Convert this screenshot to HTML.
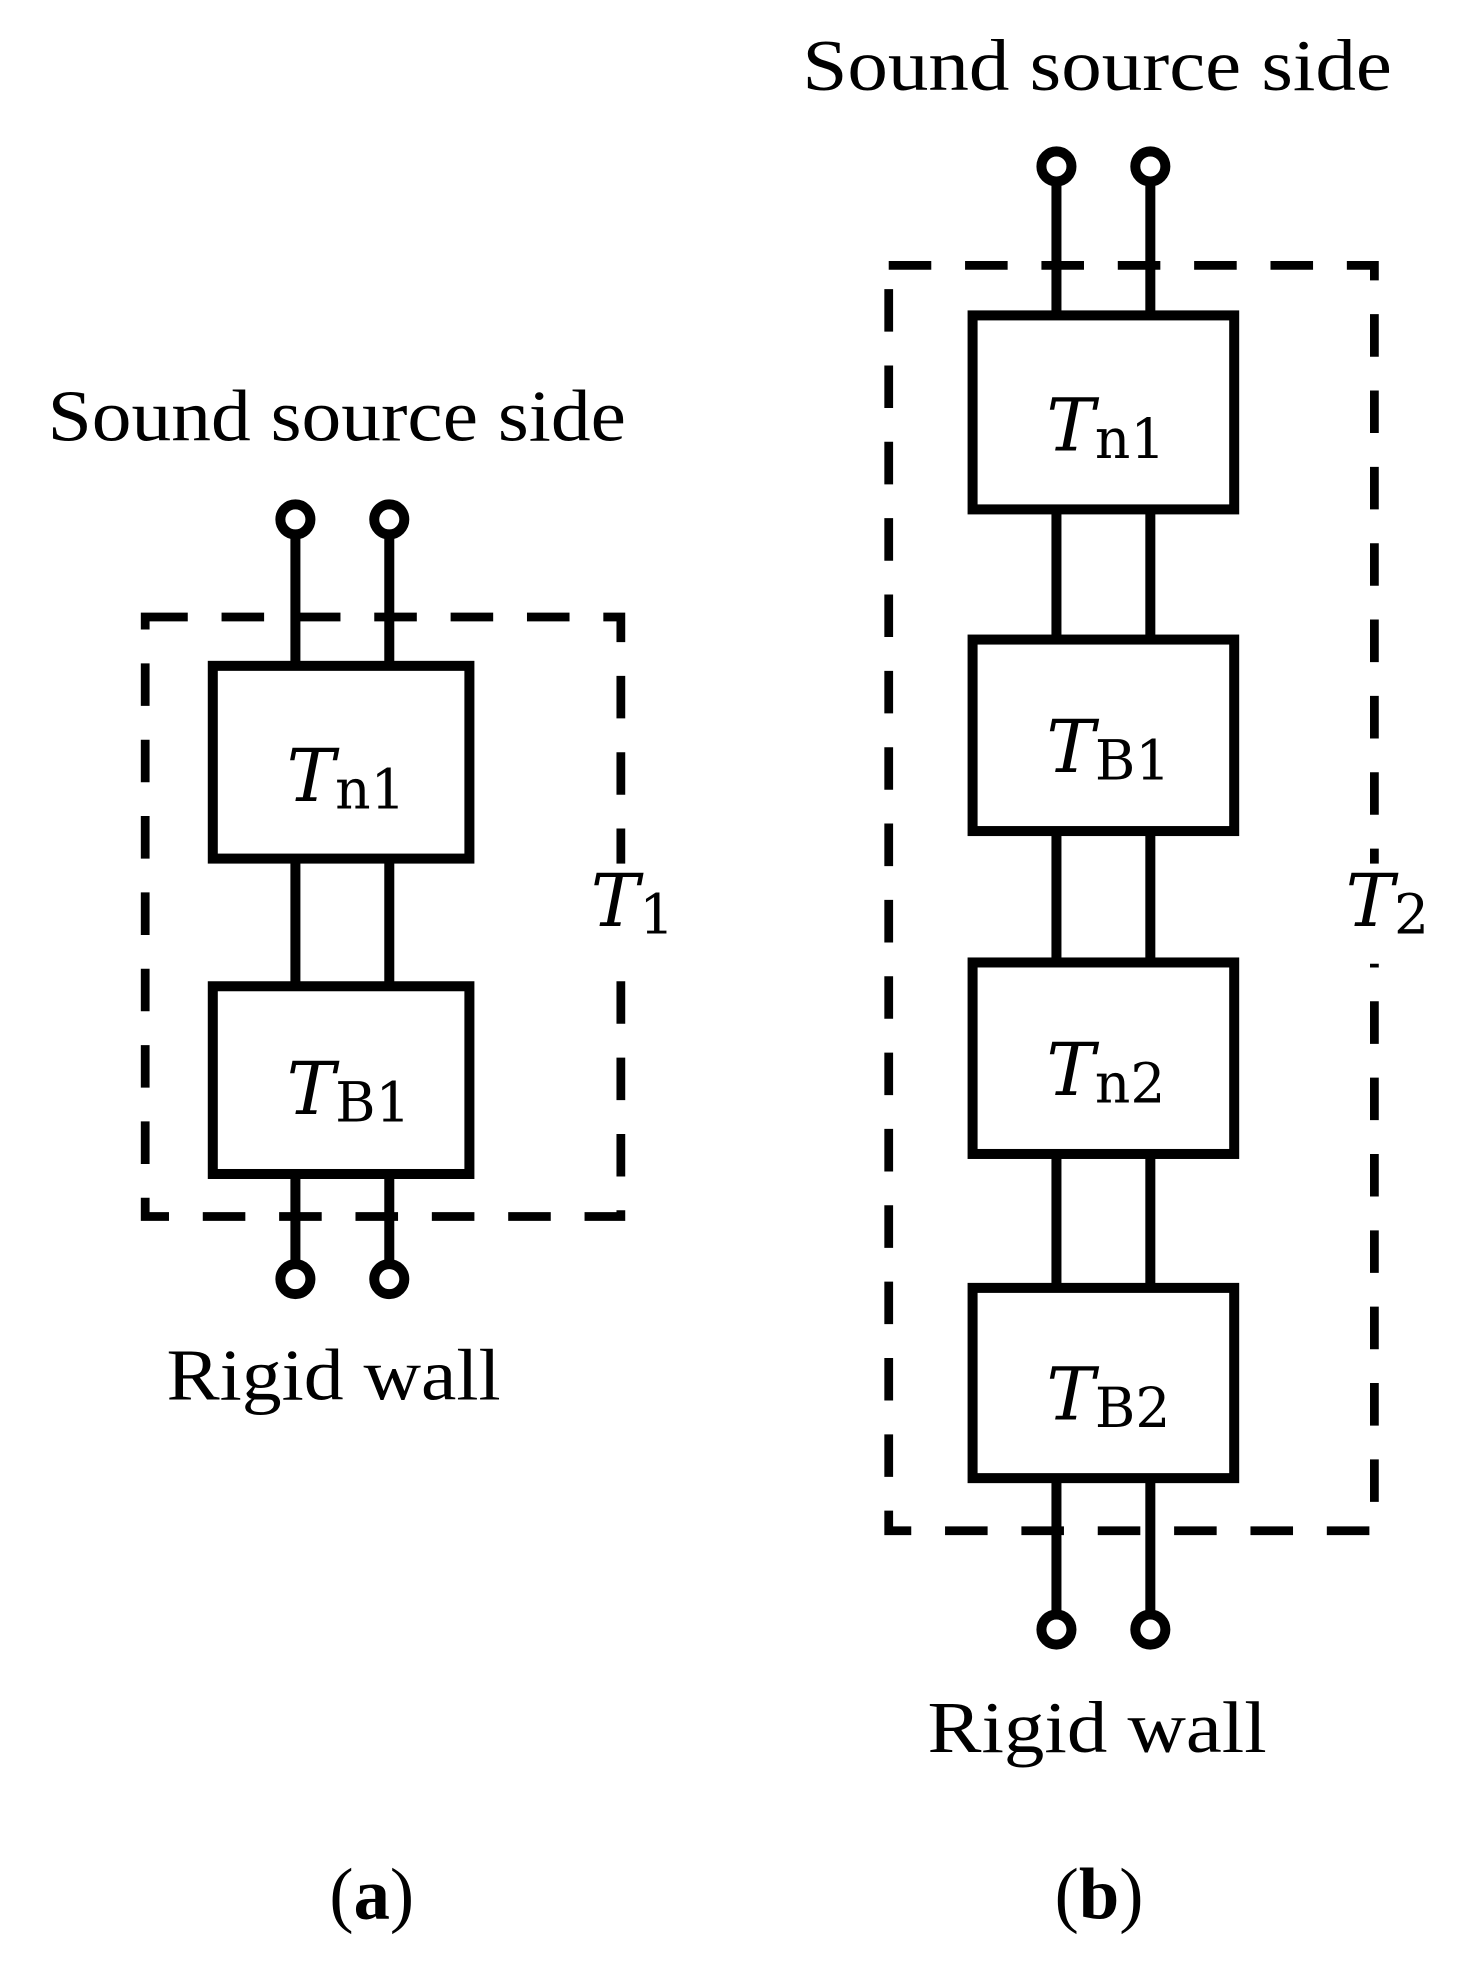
<!DOCTYPE html>
<html><head><meta charset="utf-8"><style>
html,body{margin:0;padding:0;background:#fff;}
svg{display:block;}
.t{font-family:"Liberation Serif",serif;fill:#000;}
.m{font-family:"DejaVu Serif","Liberation Serif",serif;font-style:italic;}
.s{font-family:"DejaVu Serif","Liberation Serif",serif;font-style:normal;}
</style></head><body>
<svg width="1457" height="1965" viewBox="0 0 1164 1570" preserveAspectRatio="none" xmlns="http://www.w3.org/2000/svg">
<g stroke="#000" stroke-width="8" fill="none">
<line x1="236" y1="427" x2="236" y2="532"/><line x1="311" y1="427" x2="311" y2="532"/>
<rect x="170" y="532" width="205" height="154" fill="#fff"/>
<line x1="236" y1="686" x2="236" y2="788"/><line x1="311" y1="686" x2="311" y2="788"/>
<rect x="170" y="788" width="205" height="150" fill="#fff"/>
<line x1="236" y1="938" x2="236" y2="1010"/><line x1="311" y1="938" x2="311" y2="1010"/>
<circle cx="236" cy="415" r="12" fill="#fff"/><circle cx="311" cy="415" r="12" fill="#fff"/>
<circle cx="236" cy="1022" r="12" fill="#fff"/><circle cx="311" cy="1022" r="12" fill="#fff"/>
<rect x="116" y="493" width="380" height="479" stroke-dasharray="34 27" stroke-width="7"/>
<line x1="844" y1="145" x2="844" y2="252"/><line x1="919" y1="145" x2="919" y2="252"/>
<line x1="844" y1="407" x2="844" y2="511"/><line x1="919" y1="407" x2="919" y2="511"/>
<line x1="844" y1="664" x2="844" y2="769"/><line x1="919" y1="664" x2="919" y2="769"/>
<line x1="844" y1="922" x2="844" y2="1029"/><line x1="919" y1="922" x2="919" y2="1029"/>
<line x1="844" y1="1181" x2="844" y2="1290"/><line x1="919" y1="1181" x2="919" y2="1290"/>
<rect x="777" y="252" width="209" height="155" fill="#fff"/>
<rect x="777" y="511" width="209" height="153" fill="#fff"/>
<rect x="777" y="769" width="209" height="153" fill="#fff"/>
<rect x="777" y="1029" width="209" height="152" fill="#fff"/>
<circle cx="844" cy="133" r="12" fill="#fff"/><circle cx="919" cy="133" r="12" fill="#fff"/>
<circle cx="844" cy="1302" r="12" fill="#fff"/><circle cx="919" cy="1302" r="12" fill="#fff"/>
<rect x="710" y="212" width="388" height="1011" stroke-dasharray="34 27" stroke-width="7"/>
</g>
<rect x="1085" y="690" width="40" height="80" fill="#fff"/>
<rect x="465" y="690" width="40" height="80" fill="#fff"/>
<g class="t" font-size="58">
<text x="38" y="352" textLength="462" lengthAdjust="spacingAndGlyphs">Sound source side</text>
<text x="133" y="1118" textLength="267" lengthAdjust="spacingAndGlyphs">Rigid wall</text>
<text x="641" y="72" textLength="471" lengthAdjust="spacingAndGlyphs">Sound source side</text>
<text x="741" y="1400" textLength="271" lengthAdjust="spacingAndGlyphs">Rigid wall</text>
<text x="297" y="1533" text-anchor="middle">(<tspan font-weight="bold">a</tspan>)</text>
<text x="878" y="1533" text-anchor="middle">(<tspan font-weight="bold">b</tspan>)</text>
</g>
<g font-size="58">
<text x="229" y="640" class="m">T<tspan class="s" font-size="44" dy="6">n1</tspan></text>
<text x="229" y="890" class="m">T<tspan class="s" font-size="44" dy="6">B1</tspan></text>
<text x="836" y="360" class="m">T<tspan class="s" font-size="44" dy="6">n1</tspan></text>
<text x="836" y="617" class="m">T<tspan class="s" font-size="44" dy="6">B1</tspan></text>
<text x="836" y="875" class="m">T<tspan class="s" font-size="44" dy="6">n2</tspan></text>
<text x="836" y="1134" class="m">T<tspan class="s" font-size="44" dy="6">B2</tspan></text>
<text x="472" y="740" class="m">T<tspan class="s" font-size="44" dy="6">1</tspan></text>
<text x="1075" y="740" class="m">T<tspan class="s" font-size="44" dy="6">2</tspan></text>
</g>
</svg>
</body></html>
